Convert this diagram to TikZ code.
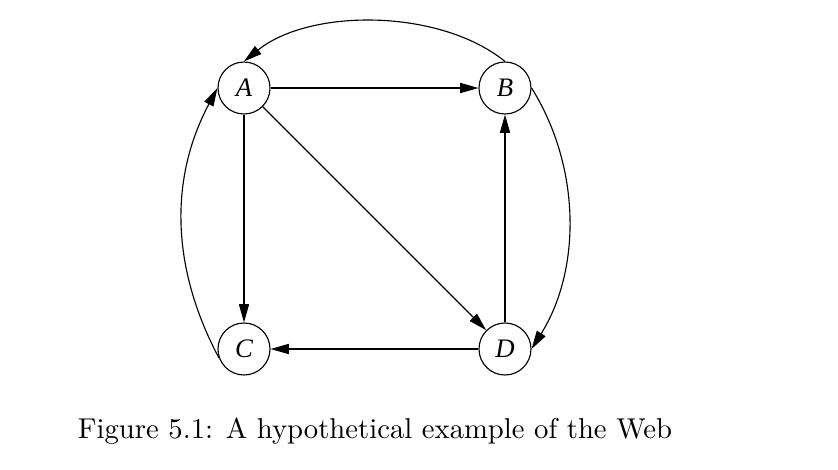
\documentclass[tikz,border=0pt]{standalone}
\usepackage{fontspec}
\newfontfamily\labelfont{Liberation Serif}
\usetikzlibrary{arrows.meta}
\tikzset{
  page/.style={x=0.0125cm,y=-0.0125cm},
  vertex/.style={circle,draw,line width=0.4pt,minimum size=0.65cm,inner sep=0pt,
    font=\labelfont\fontsize{9.5}{10}\selectfont\itshape},
  link/.style={line width=0.4pt,-{Triangle[length=6.5pt,width=3.6pt]}}
}
\begin{document}
\begin{tikzpicture}[page]
\useasboundingbox (0,0) rectangle (838,470);
\node[vertex] (A) at (244,88) {A};
\node[vertex] (B) at (505,88) {B};
\node[vertex] (C) at (244,349) {C};
\node[vertex] (D) at (505,349) {D};
\draw[link] (A) -- (B);
\draw[link] (A) -- (C);
\draw[link] (A) -- (D);
\draw[link] (D) -- (B);
\draw[link] (D) -- (C);
\draw[link] (B.north) to[out=141,in=39,looseness=0.83] (A.north);
\draw[link] (B.east) to[out=-58,in=58,looseness=0.92] (D.east);
\draw[link] (C.200) to[out=118,in=-118,looseness=0.97] (A.west);
\node[font=\fontsize{10.2}{12}\selectfont,anchor=base] (cap) at (375,438)
  {Figure 5.1: A hypothetical example of the Web};
\end{tikzpicture}
\end{document}
